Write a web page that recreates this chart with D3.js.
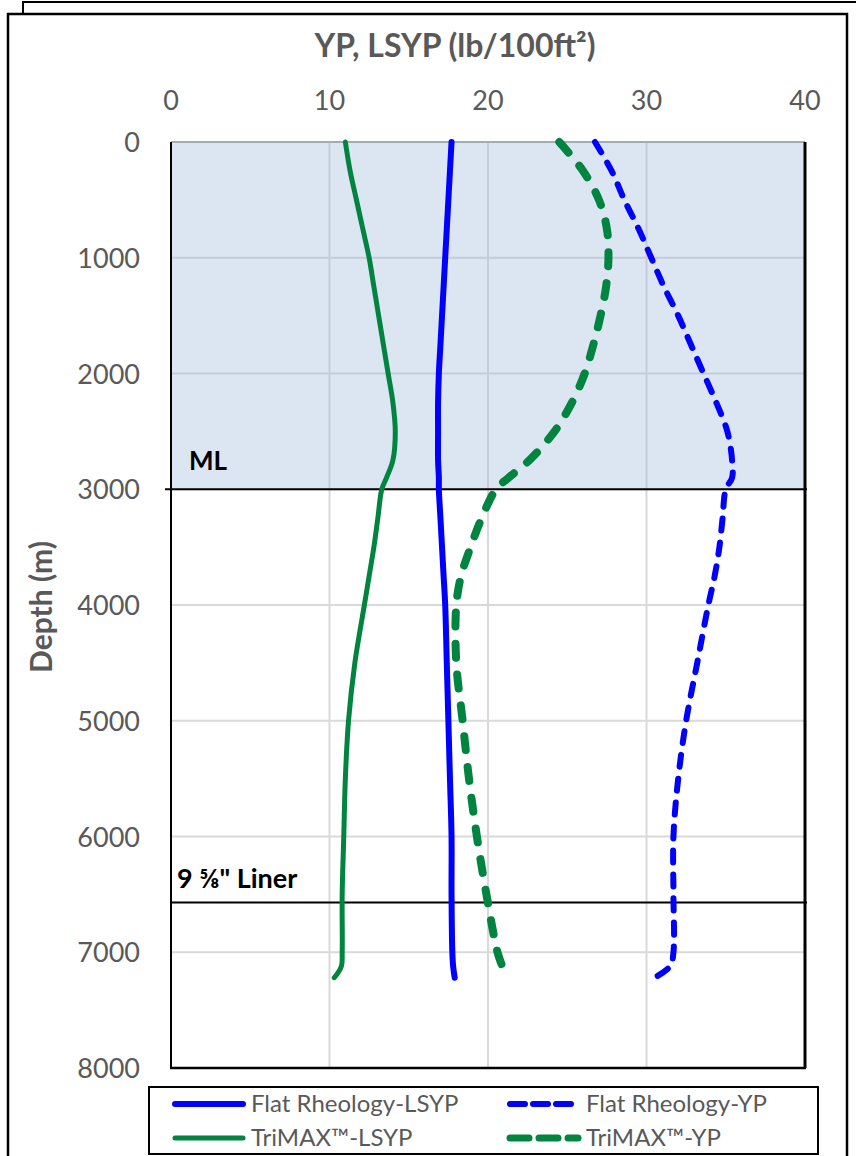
<!DOCTYPE html>
<html>
<head>
<meta charset="utf-8">
<script src="https://cdn.jsdelivr.net/npm/d3@7/dist/d3.min.js"></script>
<style>
  body { margin: 0; background: #fff; }
  svg text { font-family: Lato, "Open Sans", sans-serif; }
</style>
</head>
<body>
<svg id="chart" width="856" height="1156"></svg>
<script>
// depths (m) shared by all series
const depths = [0, 250, 500, 750, 1000, 1250, 1500, 1750, 2000, 2250, 2500, 2750, 2900, 3000,
  3250, 3500, 3750, 4000, 4500, 5000, 5500, 6000, 6500, 7000, 7120, 7220];

// YP / LSYP values (lb/100ft2) per depth
const flatLSYP = [17.7, 17.6, 17.5, 17.4, 17.3, 17.2, 17.1, 17.0, 16.9, 16.85, 16.85, 16.85, 16.9, 16.9,
  17.0, 17.1, 17.2, 17.3, 17.4, 17.5, 17.6, 17.7, 17.7, 17.75, 17.8, 17.9];
const flatYP = [26.75, 27.8, 28.6, 29.5, 30.3, 31.1, 32.0, 32.8, 33.6, 34.4, 35.1, 35.4, 35.4, 35.0,
  34.8, 34.6, 34.3, 33.9, 33.2, 32.5, 32.0, 31.7, 31.7, 31.7, 31.5, 30.5];
const trimaxLSYP = [11.0, 11.3, 11.7, 12.1, 12.5, 12.8, 13.1, 13.4, 13.7, 14.0, 14.15, 14.0, 13.6, 13.3,
  13.05, 12.8, 12.5, 12.2, 11.6, 11.2, 11.0, 10.9, 10.8, 10.8, 10.75, 10.3];
const trimaxYP = [24.5, 26.0, 27.0, 27.5, 27.6, 27.45, 27.1, 26.65, 26.1, 25.3, 24.2, 22.6, 21.3, 20.5,
  19.6, 18.9, 18.3, 18.0, 18.0, 18.4, 18.8, 19.3, 19.9, 20.6, 20.9, null];

const xTicks = [0, 10, 20, 30, 40];
const yTicks = [0, 1000, 2000, 3000, 4000, 5000, 6000, 7000, 8000];

// marker depths
const mudlineDepth = 3000;
const linerDepth = 6570;

const series = [
  { name: 'Flat Rheology-LSYP', values: flatLSYP, color: '#0000ff', width: 6, dash: null },
  { name: 'Flat Rheology-YP', values: flatYP, color: '#0000ff', width: 6, dash: '12,12' },
  { name: 'TriMAX\u2122-LSYP', values: trimaxLSYP, color: '#00843f', width: 5, dash: null },
  { name: 'TriMAX\u2122-YP', values: trimaxYP, color: '#00843f', width: 8, dash: '14,17' },
];

const svg = d3.select('#chart');

// frames
svg.append('rect').attr('x', 23).attr('y', 2).attr('width', 900).attr('height', 1200)
  .attr('fill', '#fff').attr('stroke', '#000').attr('stroke-width', 2);
svg.append('rect').attr('x', 8).attr('y', 14).attr('width', 839).attr('height', 1200)
  .attr('fill', '#fff').attr('stroke', '#000').attr('stroke-width', 2.5);

const x = d3.scaleLinear().domain([0, 40]).range([171, 805]);
const y = d3.scaleLinear().domain([0, 8000]).range([142, 1068]);

// shaded water column
svg.append('rect')
  .attr('x', x(0)).attr('y', y(0))
  .attr('width', x(40) - x(0)).attr('height', y(mudlineDepth) - y(0))
  .attr('fill', '#dce6f2');

// gridlines
const grid = svg.append('g');
xTicks.forEach((t) => {
  grid.append('line').attr('x1', x(t)).attr('x2', x(t)).attr('y1', y(0)).attr('y2', y(mudlineDepth))
    .attr('stroke', '#c3ccd8').attr('stroke-width', 2);
  grid.append('line').attr('x1', x(t)).attr('x2', x(t)).attr('y1', y(mudlineDepth)).attr('y2', y(8000))
    .attr('stroke', '#d9d9d9').attr('stroke-width', 2);
});
yTicks.forEach((t) => {
  grid.append('line').attr('x1', x(0)).attr('x2', x(40)).attr('y1', y(t)).attr('y2', y(t))
    .attr('stroke', t < mudlineDepth ? '#c3ccd8' : '#d9d9d9').attr('stroke-width', 2);
});
grid.append('line').attr('x1', x(0)).attr('x2', x(40)).attr('y1', y(0)).attr('y2', y(0))
  .attr('stroke', '#9aa3ad').attr('stroke-width', 1.5);

// axes lines
svg.append('line').attr('x1', x(0)).attr('x2', x(0)).attr('y1', y(0)).attr('y2', y(8000))
  .attr('stroke', '#000').attr('stroke-width', 2);
svg.append('line').attr('x1', x(0) - 1).attr('x2', x(40) + 1).attr('y1', y(8000)).attr('y2', y(8000))
  .attr('stroke', '#000').attr('stroke-width', 2.5);
svg.append('line').attr('x1', x(40)).attr('x2', x(40)).attr('y1', y(0)).attr('y2', y(8000))
  .attr('stroke', '#000').attr('stroke-width', 3);

// tick labels
svg.append('g').selectAll('text').data(xTicks).join('text')
  .attr('x', (d) => x(d)).attr('y', 110)
  .attr('text-anchor', 'middle')
  .attr('font-size', 27).attr('fill', '#595959')
  .text((d) => d);
svg.append('g').selectAll('text').data(yTicks).join('text')
  .attr('x', 140).attr('y', (d) => y(d) + 10)
  .attr('text-anchor', 'end')
  .attr('font-size', 27).attr('fill', '#595959')
  .text((d) => d);

// axis titles
svg.append('text')
  .attr('x', 455).attr('y', 57)
  .attr('text-anchor', 'middle')
  .attr('font-size', 32).attr('font-weight', 'bold').attr('fill', '#595959')
  .text('YP, LSYP (lb/100ft\u00b2)');
svg.append('text')
  .attr('transform', 'translate(52,607) rotate(-90)')
  .attr('text-anchor', 'middle')
  .attr('font-size', 30).attr('font-weight', 'bold').attr('fill', '#595959')
  .text('Depth (m)');

// marker lines
svg.append('line').attr('x1', x(0) - 6).attr('x2', x(40) + 2)
  .attr('y1', y(mudlineDepth)).attr('y2', y(mudlineDepth))
  .attr('stroke', '#000').attr('stroke-width', 2);
svg.append('line').attr('x1', x(0)).attr('x2', x(40) + 2)
  .attr('y1', y(linerDepth)).attr('y2', y(linerDepth))
  .attr('stroke', '#000').attr('stroke-width', 2);
svg.append('text').attr('x', 189).attr('y', y(mudlineDepth) - 19)
  .attr('font-size', 26).attr('font-weight', 'bold').attr('fill', '#000').text('ML');
svg.append('text').attr('x', 177).attr('y', y(linerDepth) - 14)
  .attr('font-size', 27).attr('font-weight', 'bold').attr('fill', '#000').text('9 \u215d" Liner');

// series lines
const line = d3.line()
  .defined((d) => d[1] != null)
  .x((d) => x(d[1]))
  .y((d) => y(d[0]))
  .curve(d3.curveCatmullRom.alpha(0.5));

svg.append('g').selectAll('path').data(series).join('path')
  .attr('d', (s) => line(depths.map((dep, i) => [dep, s.values[i]])))
  .attr('fill', 'none')
  .attr('stroke', (s) => s.color)
  .attr('stroke-width', (s) => s.width)
  .attr('stroke-dasharray', (s) => s.dash)
  .attr('stroke-linecap', 'round')
  .attr('stroke-linejoin', 'round');

// legend
const legend = svg.append('g');
legend.append('rect').attr('x', 149).attr('y', 1087).attr('width', 669).attr('height', 67)
  .attr('fill', '#fff').attr('stroke', '#000').attr('stroke-width', 2);
const legendPos = [[175, 1104], [510, 1104], [175, 1138], [510, 1138]];
legendPos.forEach(([lx, ly], k) => {
  const s = series[k];
  legend.append('line').attr('x1', lx).attr('x2', lx + 68).attr('y1', ly).attr('y2', ly)
    .attr('stroke', s.color).attr('stroke-width', Math.min(s.width, 7))
    .attr('stroke-dasharray', s.dash ? (k === 1 ? '15,8' : '19,10') : null)
    .attr('stroke-linecap', 'round');
  legend.append('text').attr('x', lx + 76).attr('y', ly + 8)
    .attr('font-size', 24).attr('fill', '#595959').text(s.name);
});
</script>
</body>
</html>
